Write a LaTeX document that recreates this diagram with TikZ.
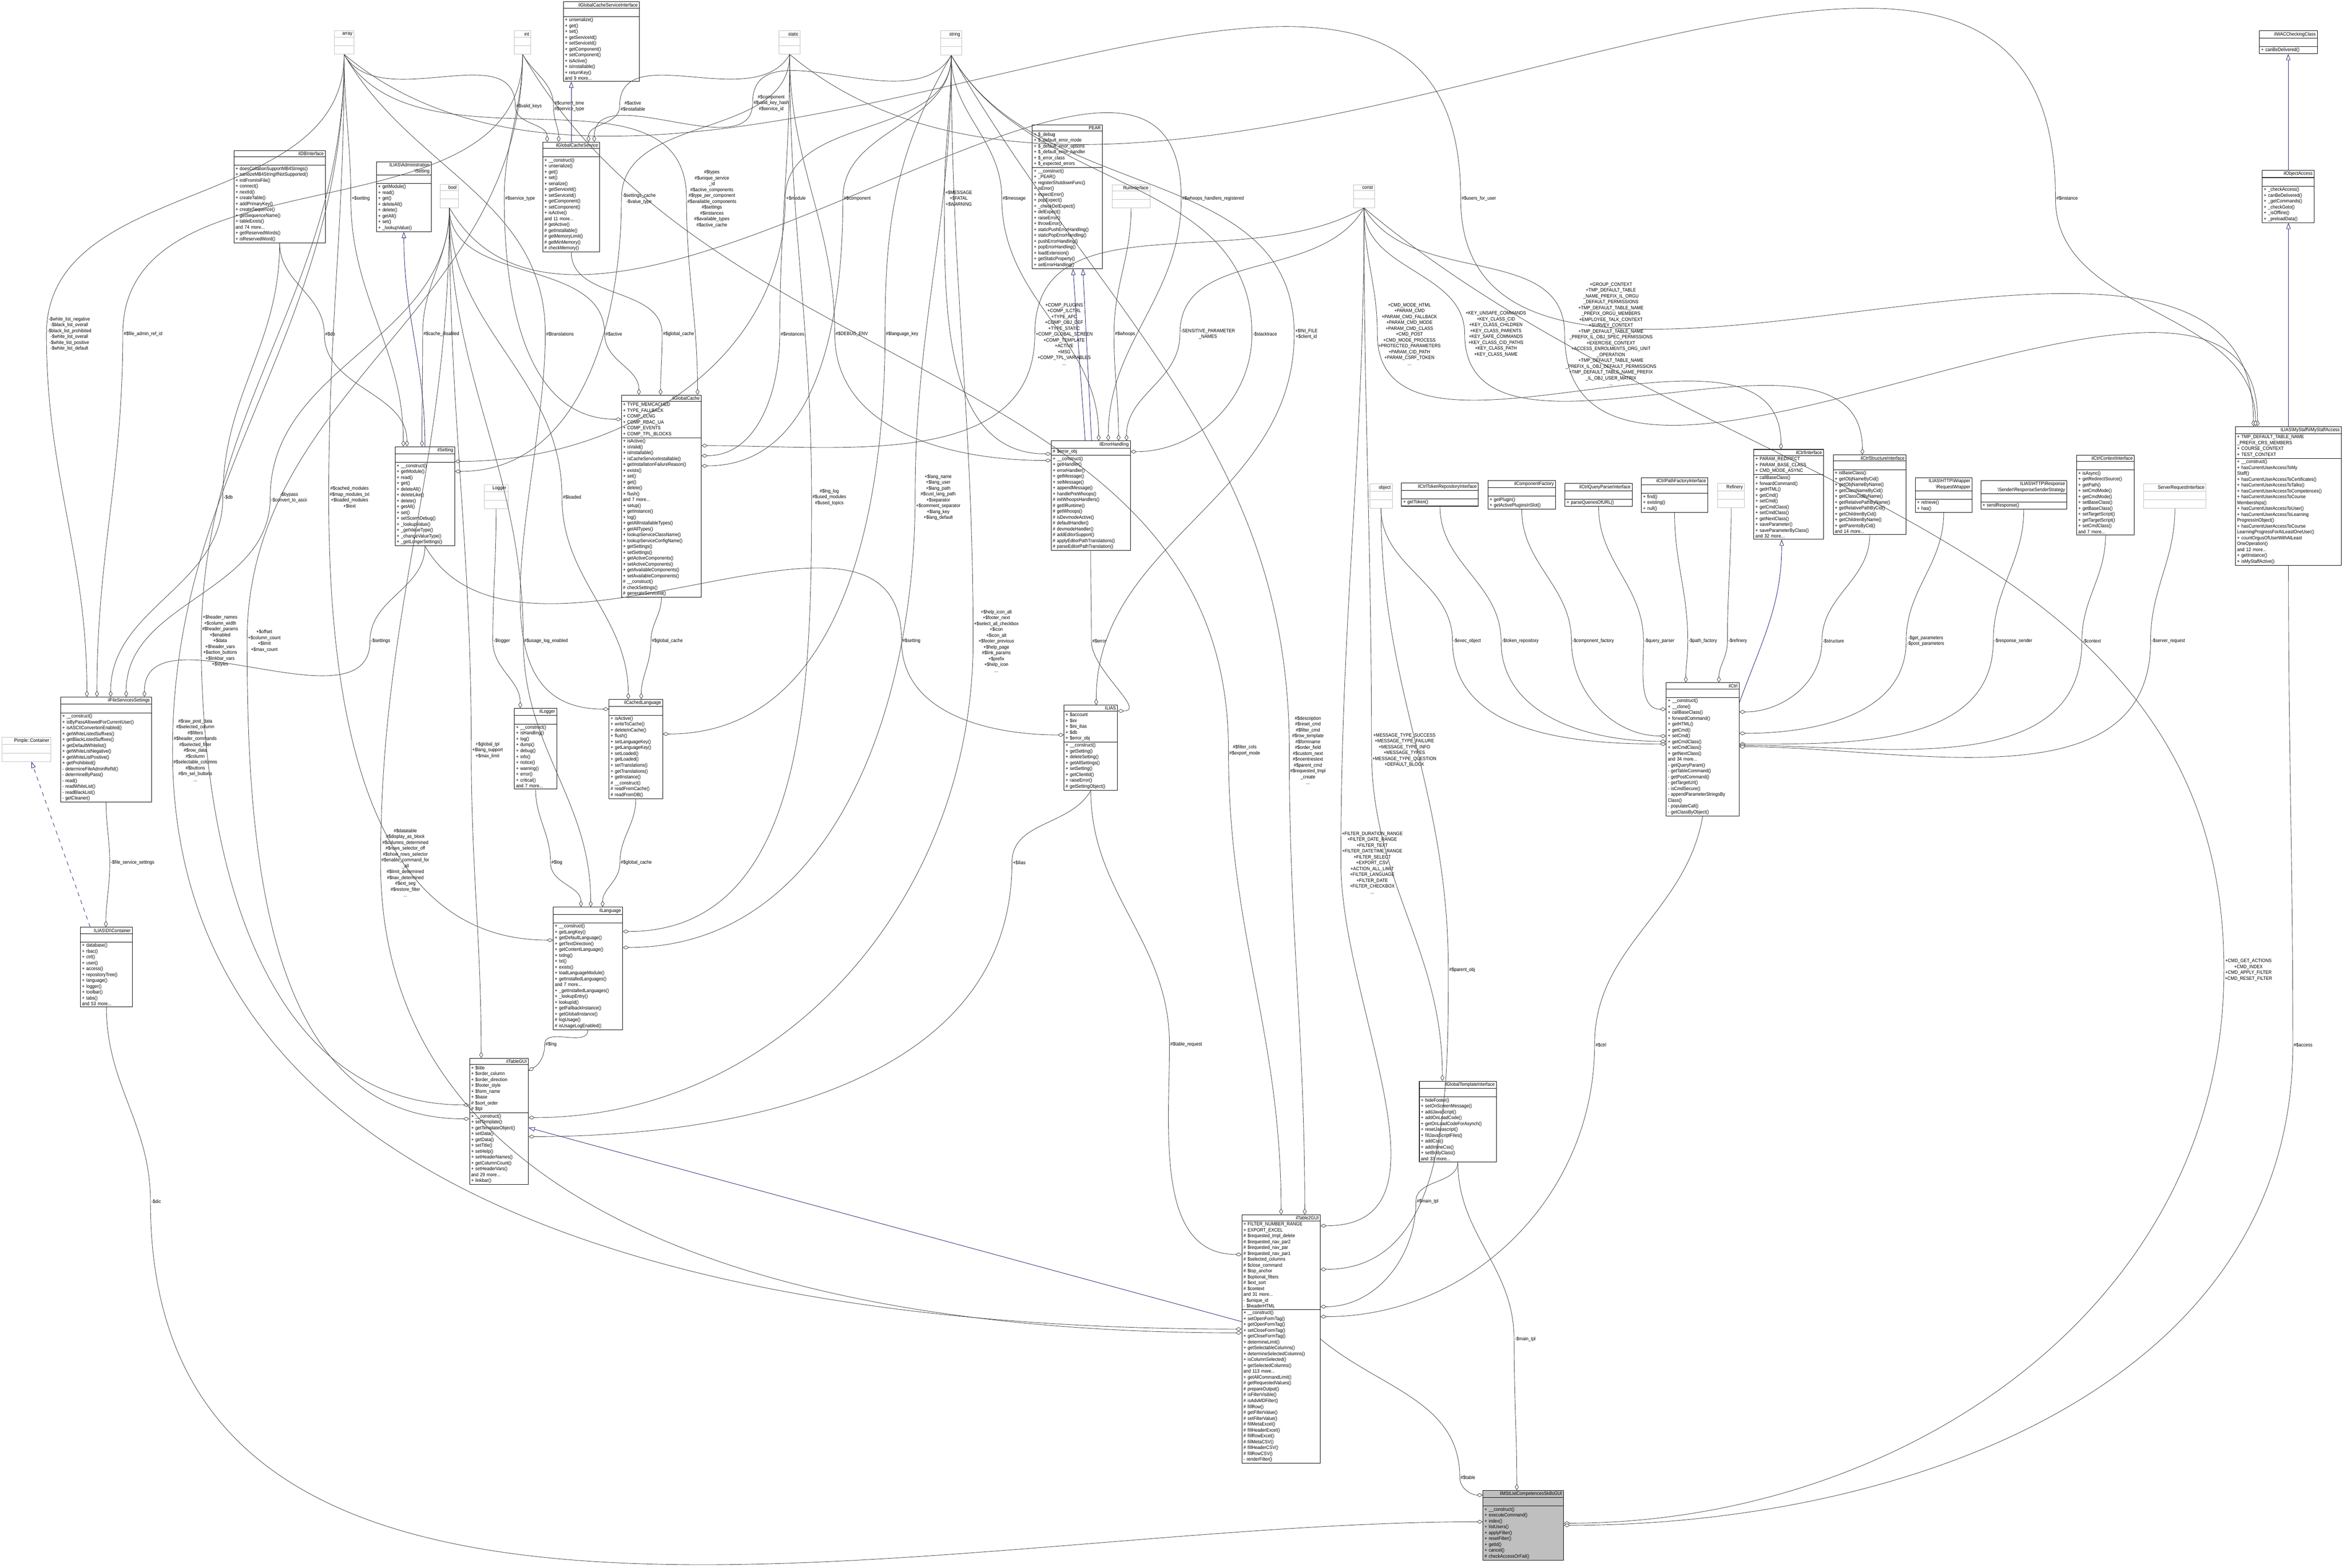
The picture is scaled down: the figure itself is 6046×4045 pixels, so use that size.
\documentclass[tikz,border=0pt]{standalone}
\usepackage{fontspec}
\setmainfont[FakeStretch=0.9]{Liberation Sans}
\usetikzlibrary{shapes.multipart,arrows.meta,calc}
\definecolor{navy}{RGB}{25,25,112}
\definecolor{extgray}{RGB}{191,191,191}
\newcommand\cf{\fontsize{3.6}{4.3}\selectfont}
\newcommand\ttl[1]{\hspace*{\fill}#1\hspace*{\fill}}
\newcommand\E[5]{\draw[agg] #1 to[out=#4,in=90] (#2.west) to[out=-90,in=#5] #3;}
\begin{document}
\begin{tikzpicture}[x=0.01cm,y=-0.01cm,
 cls/.style={draw=black,line width=0.35pt,rectangle split,rectangle split parts=3,anchor=north west,font=\cf,align=left,inner xsep=1.2pt,inner ysep=0.8pt,fill=white},
 ext/.style={cls,draw=extgray},
 lab/.style={font=\cf,align=center,inner sep=0.5pt},
 agg/.style={draw=black!75,line width=0.3pt,-{Diamond[open,fill=white,length=4.5pt,width=2.8pt]}},
 inh/.style={draw=navy,line width=0.3pt,-{Triangle[open,fill=white,length=4.5pt,width=3.2pt]}}]
\useasboundingbox (0,0) rectangle (6046,4045);
% ---------- undocumented types
\node[ext,text width=12.1pt] (arr) at (862,79) {\ttl{array}\nodepart{two}\strut\nodepart{three}\strut};
\node[ext,text width=9.5pt] (int) at (1327,79) {\ttl{int}\nodepart{two}\strut\nodepart{three}\strut};
\node[ext,text width=13pt] (sta) at (2010,79) {\ttl{static}\nodepart{two}\strut\nodepart{three}\strut};
\node[ext,text width=13pt] (str) at (2427,79) {\ttl{string}\nodepart{two}\strut\nodepart{three}\strut};
\node[ext,text width=10.7pt] (bool) at (1136,475) {\ttl{bool}\nodepart{two}\strut\nodepart{three}\strut};
\node[ext,text width=13pt] (const) at (3492,476) {\ttl{const}\nodepart{two}\strut\nodepart{three}\strut};
\node[ext,text width=25.5pt] (run) at (2869,476) {\ttl{RunInterface}\nodepart{two}\strut\nodepart{three}\strut};
\node[ext,text width=15pt] (logger) at (1249,1250) {\ttl{Logger}\nodepart{two}\strut\nodepart{three}\strut};
\node[ext,text width=14.1pt] (obj) at (3534,1248) {\ttl{object}\nodepart{two}\strut\nodepart{three}\strut};
\node[ext,text width=17.2pt] (ref) at (4432,1247) {\ttl{Refinery}\nodepart{two}\strut\nodepart{three}\strut};
\node[ext,text width=43.4pt] (sri) at (5531,1248) {\ttl{ServerRequestInterface}\nodepart{two}\strut\nodepart{three}\strut};
\node[ext,text width=33.4pt] (pim) at (5,1902) {\ttl{Pimple::Container}\nodepart{two}\strut\nodepart{three}\strut};
% ---------- classes
\node[cls,text width=53.4pt] (gcsi) at (1453,4) {\ttl{ilGlobalCacheServiceInterface}\nodepart{two}\strut\nodepart{three}+ unserialize()\\+ get()\\+ set()\\+ getServiceId()\\+ setServiceId()\\+ getComponent()\\+ setComponent()\\+ isActive()\\+ isInstallable()\\+ returnKey()\\and 9 more...};
\node[cls,text width=39.4pt] (gcs) at (1400,366) {\ttl{ilGlobalCacheService}\nodepart{two}\strut\nodepart{three}+ \_\_construct()\\+ unserialize()\\+ get()\\+ set()\\+ serialize()\\+ getServiceId()\\+ setServiceId()\\+ getComponent()\\+ setComponent()\\+ isActive()\\and 11 more...\\\# getActive()\\\# getInstallable()\\\# getMemoryLimit()\\\# getMinMemory()\\\# checkMemory()};
\node[cls,text width=64.7pt] (db) at (603,388) {\ttl{ilDBInterface}\nodepart{two}\strut\nodepart{three}+ doesCollationSupportMB4Strings()\\+ sanitizeMB4StringIfNotSupported()\\+ initFromIniFile()\\+ connect()\\+ nextId()\\+ createTable()\\+ addPrimaryKey()\\+ createSequence()\\+ getSequenceName()\\+ tableExists()\\and 74 more...\\+ getReservedWords()\\+ isReservedWord()};
\node[cls,text width=37.7pt] (aset) at (971,417) {\ttl{ILIAS\textbackslash Administration}\\\ttl{\textbackslash Setting}\nodepart{two}\strut\nodepart{three}+ getModule()\\+ read()\\+ get()\\+ deleteAll()\\+ delete()\\+ getAll()\\+ set()\\+ \_lookupValue()};
\node[cls,text width=56.2pt] (gc) at (1603,1019) {\ttl{ilGlobalCache}\nodepart{two}+ TYPE\_MEMCACHED\\+ TYPE\_FALLBACK\\+ COMP\_CLNG\\+ COMP\_RBAC\_UA\\+ COMP\_EVENTS\\+ COMP\_TPL\_BLOCKS\nodepart{three}+ isActive()\\+ isValid()\\+ isInstallable()\\+ isCacheServiceInstallable()\\+ getInstallationFailureReason()\\+ exists()\\+ set()\\+ get()\\+ delete()\\+ flush()\\and 7 more...\\+ setup()\\+ getInstance()\\+ log()\\+ getAllInstallableTypes()\\+ getAllTypes()\\+ lookupServiceClassName()\\+ lookupServiceConfigName()\\+ getSettings()\\+ setSettings()\\+ getActiveComponents()\\+ setActiveComponents()\\+ getAvailableComponents()\\+ setAvailableComponents()\\\# \_\_construct()\\\# checkSettings()\\\# generateServiceId()};
\node[cls,text width=41.4pt] (set) at (1019,1152) {\ttl{ilSetting}\nodepart{two}\strut\nodepart{three}+ \_\_construct()\\+ getModule()\\+ read()\\+ get()\\+ deleteAll()\\+ deleteLike()\\+ delete()\\+ getAll()\\+ set()\\+ setScormDebug()\\+ \_lookupValue()\\+ \_getValueType()\\+ \_changeValueType()\\+ \_getLongerSettings()};
\node[cls,text width=49.1pt] (pear) at (2663,322) {\ttl{PEAR}\nodepart{two}+ \$\_debug\\+ \$\_default\_error\_mode\\+ \$\_default\_error\_options\\+ \$\_default\_error\_handler\\+ \$\_error\_class\\+ \$\_expected\_errors\nodepart{three}+ \_\_construct()\\+ \_PEAR()\\+ registerShutdownFunc()\\+ isError()\\+ expectError()\\+ popExpect()\\+ \_checkDelExpect()\\+ delExpect()\\+ raiseError()\\+ throwError()\\+ staticPushErrorHandling()\\+ staticPopErrorHandling()\\+ pushErrorHandling()\\+ popErrorHandling()\\+ loadExtension()\\+ getStaticProperty()\\+ setErrorHandling()};
\node[cls,text width=55.6pt] (err) at (2712,1137) {\ttl{ilErrorHandling}\nodepart{two}\# \$error\_obj\nodepart{three}+ \_\_construct()\\+ getHandler()\\+ errorHandler()\\+ getMessage()\\+ setMessage()\\+ appendMessage()\\+ handlePreWhoops()\\\# initWhoopsHandlers()\\\# getIlRuntime()\\\# getWhoops()\\\# isDevmodeActive()\\\# defaultHandler()\\\# devmodeHandler()\\\# addEditorSupport()\\\# applyEditorPathTranslations()\\\# parseEditorPathTranslation()};
\node[cls,text width=54pt] (tok) at (3616,1246) {\ttl{ilCtrlTokenRepositoryInterface}\nodepart{two}\strut\nodepart{three}+ getToken()};
\node[cls,text width=47.1pt] (cfac) at (3839,1239) {\ttl{ilComponentFactory}\nodepart{two}\strut\nodepart{three}+ getPlugin()\\+ getActivePluginsInSlot()};
\node[cls,text width=46.8pt] (qp) at (4038,1247) {\ttl{ilCtrlQueryParserInterface}\nodepart{two}\strut\nodepart{three}+ parseQueriesOfURL()};
\node[cls,text width=46.2pt] (pf) at (4235,1232) {\ttl{ilCtrlPathFactoryInterface}\nodepart{two}\strut\nodepart{three}+ find()\\+ existing()\\+ null()};
\node[cls,text width=48.8pt] (ci) at (4525,1159) {\ttl{ilCtrlInterface}\nodepart{two}+ PARAM\_REDIRECT\\+ PARAM\_BASE\_CLASS\\+ CMD\_MODE\_ASYNC\nodepart{three}+ callBaseClass()\\+ forwardCommand()\\+ getHTML()\\+ getCmd()\\+ setCmd()\\+ getCmdClass()\\+ setCmdClass()\\+ getNextClass()\\+ saveParameter()\\+ saveParameterByClass()\\and 32 more...};
\node[cls,text width=51.1pt] (cs) at (4730,1173) {\ttl{ilCtrlStructureInterface}\nodepart{two}\strut\nodepart{three}+ isBaseClass()\\+ getObjNameByCid()\\+ getObjNameByName()\\+ getClassNameByCid()\\+ getClassCidByName()\\+ getRelativePathByName()\\+ getRelativePathByCid()\\+ getChildrenByCid()\\+ getChildrenByName()\\+ getParentsByCid()\\and 14 more...};
\node[cls,text width=39.1pt] (rw) at (4942,1232) {\ttl{ILIAS\textbackslash HTTP\textbackslash Wrapper}\\\ttl{\textbackslash RequestWrapper}\nodepart{two}\strut\nodepart{three}+ retrieve()\\+ has()};
\node[cls,text width=60.5pt] (rs) at (5111,1239) {\ttl{ILIAS\textbackslash HTTP\textbackslash Response}\\\ttl{\textbackslash Sender\textbackslash ResponseSenderStrategy}\nodepart{two}\strut\nodepart{three}+ sendResponse()};
\node[cls,text width=40pt] (cc) at (5358,1174) {\ttl{ilCtrlContextInterface}\nodepart{two}\strut\nodepart{three}+ isAsync()\\+ getRedirectSource()\\+ getPath()\\+ setCmdMode()\\+ getCmdMode()\\+ setBaseClass()\\+ getBaseClass()\\+ setTargetScript()\\+ getTargetScript()\\+ setCmdClass()\\and 7 more...};
\node[cls,text width=40pt] (wac) at (5830,79) {\ttl{ilWACCheckingClass}\nodepart{two}\strut\nodepart{three}+ canBeDelivered()};
\node[cls,text width=35.7pt] (oa) at (5837,439) {\ttl{ilObjectAccess}\nodepart{two}\strut\nodepart{three}+ \_checkAccess()\\+ canBeDelivered()\\+ \_getCommands()\\+ \_checkGoto()\\+ \_isOffline()\\+ \_preloadData()};
\node[cls,text width=75.3pt] (msa) at (5768,1100) {\ttl{ILIAS\textbackslash MyStaff\textbackslash ilMyStaffAccess}\nodepart{two}+ TMP\_DEFAULT\_TABLE\_NAME\\\_PREFIX\_CRS\_MEMBERS\\+ COURSE\_CONTEXT\\+ TEST\_CONTEXT\nodepart{three}+ \_\_construct()\\+ hasCurrentUserAccessToMy\\Staff()\\+ hasCurrentUserAccessToCertificates()\\+ hasCurrentUserAccessToTalks()\\+ hasCurrentUserAccessToCompetences()\\+ hasCurrentUserAccessToCourse\\Memberships()\\+ hasCurrentUserAccessToUser()\\+ hasCurrentUserAccessToLearning\\ProgressInObject()\\+ hasCurrentUserAccessToCourse\\LearningProgressForAtLeastOneUser()\\+ countOrgusOfUserWithAtLeast\\OneOperation()\\and 12 more...\\+ getInstance()\\+ isMyStaffActive()};
\node[cls,text width=51.1pt] (ctrl) at (4299,1761) {\ttl{ilCtrl}\nodepart{two}\strut\nodepart{three}+ \_\_construct()\\+ \_\_clone()\\+ callBaseClass()\\+ forwardCommand()\\+ getHTML()\\+ getCmd()\\+ setCmd()\\+ getCmdClass()\\+ setCmdClass()\\+ getNextClass()\\and 34 more...\\- getQueryParam()\\- getTableCommand()\\- getPostCommand()\\- getTargetUrl()\\- isCmdSecure()\\- appendParameterStringsBy\\Class()\\- populateCall()\\- getClassByObject()};
\node[cls,text width=64.2pt] (fs) at (156,1798) {\ttl{ilFileServicesSettings}\nodepart{two}\strut\nodepart{three}+ \_\_construct()\\+ isByPassAllowedForCurrentUser()\\+ isASCIIConvertionEnabled()\\+ getWhiteListedSuffixes()\\+ getBlackListedSuffixes()\\+ getDefaultWhitelist()\\+ getWhiteListNegative()\\+ getWhiteListPositive()\\+ getProhibited()\\- determineFileAdminRefId()\\- determineByPass()\\- read()\\- readWhiteList()\\- readBlackList()\\- getCleaner()};
\node[cls,text width=35.7pt] (dic) at (207,2392) {\ttl{ILIAS\textbackslash DI\textbackslash Container}\nodepart{two}\strut\nodepart{three}+ database()\\+ rbac()\\+ ctrl()\\+ user()\\+ access()\\+ repositoryTree()\\+ language()\\+ logger()\\+ toolbar()\\+ tabs()\\and 53 more...};
\node[cls,text width=28.6pt] (ilog) at (1327,1827) {\ttl{ilLogger}\nodepart{two}\strut\nodepart{three}+ \_\_construct()\\+ isHandling()\\+ log()\\+ dump()\\+ debug()\\+ info()\\+ notice()\\+ warning()\\+ error()\\+ critical()\\and 7 more...};
\node[cls,text width=36.9pt] (cl) at (1571,1804) {\ttl{ilCachedLanguage}\nodepart{two}\strut\nodepart{three}+ isActive()\\+ writeToCache()\\+ deleteInCache()\\+ flush()\\+ setLanguageKey()\\+ getLanguageKey()\\+ setLoaded()\\+ getLoaded()\\+ setTranslations()\\+ getTranslations()\\+ getInstance()\\\# \_\_construct()\\\# readFromCache()\\\# readFromDB()};
\node[cls,text width=48.5pt] (lng) at (1427,2340) {\ttl{ilLanguage}\nodepart{two}\strut\nodepart{three}+ \_\_construct()\\+ getLangKey()\\+ getDefaultLanguage()\\+ getTextDirection()\\+ getContentLanguage()\\+ txtlng()\\+ txt()\\+ exists()\\+ loadLanguageModule()\\+ getInstalledLanguages()\\and 7 more...\\+ \_getInstalledLanguages()\\+ \_lookupEntry()\\+ lookupId()\\+ getFallbackInstance()\\+ getGlobalInstance()\\\# logUsage()\\\# isUsageLogEnabled()};
\node[cls,text width=40.8pt] (tg) at (1211,2730) {\ttl{ilTableGUI}\nodepart{two}+ \$title\\+ \$order\_column\\+ \$order\_direction\\+ \$footer\_style\\+ \$form\_name\\+ \$base\\\# \$sort\_order\\\# \$tpl\nodepart{three}+ \_\_construct()\\+ setTemplate()\\+ getTemplateObject()\\+ setData()\\+ getData()\\+ setTitle()\\+ setHelp()\\+ setHeaderNames()\\+ getColumnCount()\\+ setHeaderVars()\\and 29 more...\\+ linkbar()};
\node[cls,text width=36.9pt] (ilias) at (2745,1819) {\ttl{ILIAS}\nodepart{two}+ \$account\\+ \$ini\\+ \$ini\_ilias\\+ \$db\\+ \$error\_obj\nodepart{three}+ \_\_construct()\\+ getSetting()\\+ deleteSetting()\\+ getAllSettings()\\+ setSetting()\\+ getClientId()\\+ raiseError()\\\# getSettingObject()};
\node[cls,text width=55.1pt] (t2) at (3204,3134) {\ttl{ilTable2GUI}\nodepart{two}+ FILTER\_NUMBER\_RANGE\\+ EXPORT\_EXCEL\\\# \$requested\_tmpl\_delete\\\# \$requested\_nav\_par2\\\# \$requested\_nav\_par\\\# \$requested\_nav\_par1\\\# \$selected\_columns\\\# \$close\_command\\\# \$top\_anchor\\\# \$optional\_filters\\\# \$ext\_sort\\\# \$context\\and 31 more...\\- \$unique\_id\\- \$headerHTML\nodepart{three}+ \_\_construct()\\+ setOpenFormTag()\\+ getOpenFormTag()\\+ setCloseFormTag()\\+ getCloseFormTag()\\+ determineLimit()\\+ getSelectableColumns()\\+ determineSelectedColumns()\\+ isColumnSelected()\\+ getSelectedColumns()\\and 113 more...\\+ getAllCommandLimit()\\\# getRequestedValues()\\\# prepareOutput()\\\# isFilterVisible()\\\# isAdvMDFilter()\\\# fillRow()\\\# getFilterValue()\\\# setFilterValue()\\\# fillMetaExcel()\\\# fillHeaderExcel()\\\# fillRowExcel()\\\# fillMetaCSV()\\\# fillHeaderCSV()\\\# fillRowCSV()\\- renderFilter()};
\node[cls,text width=54pt] (gt) at (3662,2789) {\ttl{ilGlobalTemplateInterface}\nodepart{two}\strut\nodepart{three}+ hideFooter()\\+ setOnScreenMessage()\\+ addJavaScript()\\+ addOnLoadCode()\\+ getOnLoadCodeForAsynch()\\+ resetJavascript()\\+ fillJavaScriptFiles()\\+ addCss()\\+ addInlineCss()\\+ setBodyClass()\\and 33 more...};
\node[cls,text width=56.8pt,fill=extgray] (ms) at (3826,3845) {\ttl{ilMStListCompetencesSkillsGUI}\nodepart{two}\strut\nodepart{three}+ \_\_construct()\\+ executeCommand()\\+ index()\\+ listUsers()\\+ applyFilter()\\+ resetFilter()\\+ getId()\\+ cancel()\\\# checkAccessOrFail()};
% ---------- labels
\node[lab] (Lwl) at (179,862) {-\$white\_list\_negative\\-\$black\_list\_overall\\-\$black\_list\_prohibited\\-\$white\_list\_overall\\-\$white\_list\_positive\\-\$white\_list\_default};
\node[lab] (Lfar) at (369,862) {\#\$file\_admin\_ref\_id};
\node[lab] (Ldb) at (852,862) {\#\$db};
\node[lab] (Lsetting) at (931,512) {+\$setting};
\node[lab] (Lvk) at (1365,274) {\#\$valid\_keys};
\node[lab] (Lct) at (1469,274) {\#\$current\_time\\\#\$service\_type};
\node[lab] (Lai) at (1633,274) {\#\$active\\\#\$installable};
\node[lab] (Lcomp3) at (1990,266) {\#\$component\\\#\$valid\_key\_hash\\\#\$service\_id};
\node[lab] (Lst) at (1342,512) {\#\$service\_type};
\node[lab] (Lcd) at (1139,862) {\#\$cache\_disabled};
\node[lab] (Ltr) at (1445,862) {\#\$translations};
\node[lab] (Lact) at (1584,862) {\#\$active};
\node[lab] (Lgc1) at (1751,862) {\#\$global\_cache};
\node[lab] (Lsc) at (1649,513) {-\$settings\_cache\\-\$value\_type};
\node[lab] (Ltypes) at (1837,513) {\#\$types\\\#\$unique\_service\\\_id\\\#\$active\_components\\\#\$type\_per\_component\\\#\$available\_components\\\#\$settings\\\#\$instances\\\#\$available\_types\\\#\$active\_cache};
\node[lab] (Ldb2) at (589,1283) {-\$db};
\node[lab] (Lbyp) at (746,1284) {-\$bypass\\-\$convert\_to\_ascii};
\node[lab] (Lcm) at (902,1283) {\#\$cached\_modules\\\#\$map\_modules\_txt\\+\$loaded\_modules\\+\$text};
\node[lab] (Lloaded) at (1476,1283) {\#\$loaded};
\node[lab] (Lmod) at (2054,512) {+\$module};
\node[lab] (Lcomp) at (2212,512) {\#\$component};
\node[lab] (Lmsg3) at (2474,512) {+\$MESSAGE\\+\$FATAL\\+\$WARNING};
\node[lab] (Lmsg) at (2617,512) {\#\$message};
\node[lab] (Lwhr) at (3130,512) {\#\$whoops\_handlers\_registered};
\node[lab] (Luser) at (3816,512) {\#\$users\_for\_user};
\node[lab] (Linst) at (5334,512) {\#\$instance};
\node[lab] (Linsts) at (2045,862) {\#\$instances};
\node[lab] (Ldbg) at (2198,862) {\#\$DEBUG\_ENV};
\node[lab] (Llk) at (2328,862) {\#\$language\_key};
\node[lab] (Lcp) at (2746,862) {+COMP\_PLUGINS\\+COMP\_ILCTRL\\+TYPE\_APC\\+COMP\_OBJ\_DEF\\+TYPE\_STATIC\\+COMP\_GLOBAL\_SCREEN\\+COMP\_TEMPLATE\\+ACTIVE\\+MSG\\+COMP\_TPL\_VARIABLES\\...};
\node[lab] (Lwh) at (2903,862) {\#\$whoops};
\node[lab] (Lsens) at (3117,862) {-SENSITIVE\_PARAMETER\\\_NAMES};
\node[lab] (Lstack) at (3264,862) {-\$stacktrace};
\node[lab] (Lini) at (3371,862) {+\$INI\_FILE\\+\$client\_id};
\node[lab] (Lcmd) at (3637,862) {+CMD\_MODE\_HTML\\+PARAM\_CMD\\+PARAM\_CMD\_FALLBACK\\+PARAM\_CMD\_MODE\\+PARAM\_CMD\_CLASS\\+CMD\_POST\\+CMD\_MODE\_PROCESS\\+PROTECTED\_PARAMETERS\\+PARAM\_CID\_PATH\\+PARAM\_CSRF\_TOKEN\\...};
\node[lab] (Lkey) at (3860,862) {+KEY\_UNSAFE\_COMMANDS\\+KEY\_CLASS\_CID\\+KEY\_CLASS\_CHILDREN\\+KEY\_CLASS\_PARENTS\\+KEY\_SAFE\_COMMANDS\\+KEY\_CLASS\_CID\_PATHS\\+KEY\_CLASS\_PATH\\+KEY\_CLASS\_NAME};
\node[lab] (Lgrp) at (4157,862) {+GROUP\_CONTEXT\\+TMP\_DEFAULT\_TABLE\\\_NAME\_PREFIX\_IL\_ORGU\\\_DEFAULT\_PERMISSIONS\\+TMP\_DEFAULT\_TABLE\_NAME\\\_PREFIX\_ORGU\_MEMBERS\\+EMPLOYEE\_TALK\_CONTEXT\\+SURVEY\_CONTEXT\\+TMP\_DEFAULT\_TABLE\_NAME\\\_PREFIX\_IL\_OBJ\_SPEC\_PERMISSIONS\\+EXERCISE\_CONTEXT\\+ACCESS\_ENROLMENTS\_ORG\_UNIT\\\_OPERATION\\+TMP\_DEFAULT\_TABLE\_NAME\\\_PREFIX\_IL\_OBJ\_DEFAULT\_PERMISSIONS\\+TMP\_DEFAULT\_TABLE\_NAME\_PREFIX\\\_IL\_OBJ\_USER\_MATRIX\\...};
\node[lab] (Lllog) at (2140,1283) {\#\$lng\_log\\\#\$used\_modules\\\#\$used\_topics};
\node[lab] (Llang) at (2421,1283) {+\$lang\_name\\+\$lang\_user\\+\$lang\_path\\\#\$cust\_lang\_path\\+\$separator\\+\$comment\_separator\\+\$lang\_key\\+\$lang\_default};
\node[lab] (Lhn) at (568,1654) {+\$header\_names\\+\$column\_width\\\#\$header\_params\\+\$enabled\\+\$data\\+\$header\_vars\\+\$action\_buttons\\+\$linkbar\_vars\\+\$styles};
\node[lab] (Loff) at (682,1654) {+\$offset\\+\$column\_count\\+\$limit\\+\$max\_count};
\node[lab] (Lsets) at (982,1654) {-\$settings};
\node[lab] (Llogger) at (1295,1654) {-\$logger};
\node[lab] (Lule) at (1409,1654) {\#\$usage\_log\_enabled};
\node[lab] (Lgc2) at (1722,1654) {\#\$global\_cache};
\node[lab] (Lrpd) at (504,1936) {\#\$raw\_post\_data\\\#\$selected\_column\\\#\$filters\\\#\$header\_commands\\\#\$selected\_filter\\\#\$row\_data\\\#\$column\\\#\$selectable\_columns\\\#\$buttons\\\#\$m\_sel\_buttons\\...};
\node[lab] (Lgt) at (1258,1936) {+\$global\_tpl\\+\$lang\_support\\+\$max\_limit};
\node[lab] (Lfss) at (342,2226) {-\$file\_service\_settings};
\node[lab] (Ldt) at (1046,2226) {\#\$datatable\\\#\$display\_as\_block\\\#\$columns\_determined\\\#\$rows\_selector\_off\\\#\$show\_rows\_selector\\\#\$enable\_command\_for\\\_all\\\#\$limit\_determined\\\#\$nav\_determined\\\#\$ext\_seg\\\#\$restore\_filter\\...};
\node[lab] (Llog) at (1437,2226) {\#\$log};
\node[lab] (Lgc3) at (1642,2226) {\#\$global\_cache};
\node[lab] (Llng) at (1422,2695) {\#\$lng};
\node[lab] (Lhelp) at (2571,1654) {+\$help\_icon\_alt\\+\$footer\_next\\+\$select\_all\_checkbox\\+\$icon\\+\$icon\_alt\\+\$footer\_previous\\+\$help\_page\\\#\$link\_params\\+\$prefix\\+\$help\_icon\\...};
\node[lab] (Lset2) at (2352,1654) {\#\$setting};
\node[lab] (Lerr) at (2837,1654) {\#\$error};
\node[lab] (Lexec) at (3786,1654) {-\$exec\_object};
\node[lab] (Ltok) at (3923,1654) {-\$token\_repository};
\node[lab] (Lcf) at (4111,1654) {-\$component\_factory};
\node[lab] (Lqp) at (4282,1654) {-\$query\_parser};
\node[lab] (Lpf) at (4394,1654) {-\$path\_factory};
\node[lab] (Lref) at (4484,1654) {-\$refinery};
\node[lab] (Lstr) at (4731,1654) {-\$structure};
\node[lab] (Lgp) at (4969,1654) {-\$get\_parameters\\-\$post\_parameters};
\node[lab] (Lrs) at (5195,1654) {-\$response\_sender};
\node[lab] (Lctx) at (5398,1654) {-\$context};
\node[lab] (Lsr) at (5595,1654) {-\$server\_request};
\node[lab] (Ldesc) at (3375,1936) {\#\$description\\\#\$reset\_cmd\\\#\$filter\_cmd\\\#\$row\_template\\\#\$formname\\\#\$order\_field\\\#\$custom\_next\\\#\$noentriestext\\\#\$parent\_cmd\\\#\$requested\_tmpl\\\_create\\...};
\node[lab] (Lfc) at (3212,1936) {\#\$filter\_cols\\\#\$export\_mode};
\node[lab] (Lmt) at (3624,1936) {+MESSAGE\_TYPE\_SUCCESS\\+MESSAGE\_TYPE\_FAILURE\\+MESSAGE\_TYPE\_INFO\\+MESSAGE\_TYPES\\+MESSAGE\_TYPE\_QUESTION\\+DEFAULT\_BLOCK};
\node[lab] (Lilias) at (2630,2226) {+\$ilias};
\node[lab] (Lfil) at (3541,2226) {+FILTER\_DURATION\_RANGE\\+FILTER\_DATE\_RANGE\\+FILTER\_TEXT\\+FILTER\_DATETIME\_RANGE\\+FILTER\_SELECT\\+EXPORT\_CSV\\+ACTION\_ALL\_LIMIT\\+FILTER\_LANGUAGE\\+FILTER\_DATE\\+FILTER\_CHECKBOX\\...};
\node[lab] (Lpo) at (3773,2503) {\#\$parent\_obj};
\node[lab] (Ltr2) at (3061,2695) {\#\$table\_request};
\node[lab] (Lcga) at (5802,2503) {+CMD\_GET\_ACTIONS\\+CMD\_INDEX\\+CMD\_APPLY\_FILTER\\+CMD\_RESET\_FILTER};
\node[lab] (Lctrl) at (4131,2696) {\#\$ctrl};
\node[lab] (Lacc) at (5943,2696) {\#\$access};
\node[lab] (Lmt1) at (3684,3100) {\#\$main\_tpl};
\node[lab] (Lmt2) at (3936,3456) {-\$main\_tpl};
\node[lab] (Ltab) at (3788,3812) {\#\$table};
\node[lab] (Ldic) at (403,3100) {-\$dic};
% ---------- inheritance
\draw[inh] (gcs.north) -- (gcs.north |- gcsi.south);
\draw[inh] (set.north) to[out=90,in=-90] (aset.south);
\draw[inh] ($(err.north west)!.43!(err.north east)$) -- ($(pear.south west)!.58!(pear.south east)$);
\draw[inh] ($(err.north west)!.51!(err.north east)$) -- ($(pear.south west)!.72!(pear.south east)$);
\draw[inh] ($(ctrl.north east)!.15!(ctrl.south east)$) to[out=70,in=-90] ($(ci.south west)!.4!(ci.south east)$);
\draw[inh] (oa.north) -- (oa.north |- wac.south);
\draw[inh] (msa.north) -- (msa.north |- oa.south);
\draw[inh] ($(t2.north west)!.43!(t2.south west)$) -- ($(tg.north east)!.55!(tg.south east)$);
\draw[inh,dashed] ($(dic.north west)!.19!(dic.north east)$) -- ($(pim.south west)!.6!(pim.south east)$);
% ---------- aggregations
\E{(arr.south)}{Lwl}{($(fs.north west)!.29!(fs.north east)$)}{-90}{90}
\E{(int.south)}{Lfar}{($(fs.north west)!.40!(fs.north east)$)}{-90}{90}
\E{(db.south)}{Ldb2}{($(fs.north west)!.55!(fs.north east)$)}{-90}{90}
\E{(bool.south)}{Lbyp}{($(fs.north west)!.72!(fs.north east)$)}{-90}{90}
\E{(set.south)}{Lsets}{($(fs.north west)!.92!(fs.north east)$)}{-90}{90}
\E{(arr.south)}{Lsetting}{($(set.north west)!.14!(set.north east)$)}{-90}{90}
\E{(db.south)}{Ldb}{($(set.north west)!.2!(set.north east)$)}{-90}{90}
\E{(bool.south)}{Lcd}{($(set.north west)!.45!(set.north east)$)}{-90}{90}
\E{(str.south)}{Lmod}{($(set.north east)!.15!(set.south east)$)}{-90}{0}
\E{(sta.south)}{Lsc}{($(set.north east)!.25!(set.south east)$)}{-90}{0}
\E{(arr.south)}{Lvk}{($(gcs.north west)!.08!(gcs.north east)$)}{-60}{90}
\E{(int.south)}{Lct}{($(gcs.north west)!.28!(gcs.north east)$)}{-60}{90}
\E{(sta.south)}{Lai}{($(gcs.north west)!.80!(gcs.north east)$)}{-120}{90}
\E{(str.south)}{Lcomp3}{($(gcs.north west)!.9!(gcs.north east)$)}{-120}{90}
\E{(int.south)}{Lst}{($(gc.north west)!.12!(gc.south west)$)}{-90}{180}
\E{(bool.south)}{Lact}{($(gc.north west)!.22!(gc.north east)$)}{-90}{90}
\E{(gcs.south)}{Lgc1}{($(gc.north west)!.49!(gc.north east)$)}{-90}{90}
\E{(arr.south)}{Ltypes}{($(gc.north west)!.95!(gc.north east)$)}{-60}{90}
\E{(sta.south)}{Linsts}{($(gc.north east)!.30!(gc.south east)$)}{-90}{0}
\E{(str.south)}{Lcomp}{($(gc.north east)!.35!(gc.south east)$)}{-90}{0}
\E{(const.south)}{Lcp}{($(gc.north east)!.25!(gc.south east)$)}{-150}{0}
\E{(arr.south)}{Ltr}{($(cl.north west)!.1!(cl.south west)$)}{-60}{180}
\E{(bool.south)}{Lloaded}{($(cl.north west)!.36!(cl.north east)$)}{-90}{90}
\E{(gc.south)}{Lgc2}{($(cl.north west)!.6!(cl.north east)$)}{-90}{90}
\E{(str.south)}{Llk}{($(cl.north east)!.35!(cl.south east)$)}{-120}{0}
\E{(logger.south)}{Llogger}{($(ilog.north west)!.14!(ilog.north east)$)}{-90}{90}
\E{(ilog.south)}{Llog}{($(lng.north west)!.4!(lng.north east)$)}{-90}{90}
\E{(bool.south)}{Lule}{($(lng.north west)!.54!(lng.north east)$)}{-90}{90}
\E{(cl.south)}{Lgc3}{($(lng.north west)!.71!(lng.north east)$)}{-90}{90}
\E{(arr.south)}{Lcm}{($(lng.north west)!.27!(lng.south west)$)}{-90}{180}
\E{(sta.south)}{Lllog}{($(lng.north east)!.2!(lng.south east)$)}{-90}{0}
\E{(str.south)}{Llang}{($(lng.north east)!.33!(lng.south east)$)}{-90}{0}
\E{(lng.south)}{Llng}{($(tg.north east)!.1!(tg.south east)$)}{-90}{30}
\E{(arr.south)}{Lhn}{($(tg.north west)!.37!(tg.south west)$)}{-90}{180}
\E{(int.south)}{Loff}{($(tg.north west)!.48!(tg.south west)$)}{-90}{180}
\E{(bool.south)}{Lgt}{($(tg.north west)!.2!(tg.north east)$)}{-90}{90}
\E{(str.south)}{Lhelp}{($(tg.north east)!.47!(tg.south east)$)}{-90}{0}
\E{(ilias.south)}{Lilias}{($(tg.north east)!.62!(tg.south east)$)}{-120}{0}
\E{(fs.south)}{Lfss}{($(dic.north west)!.49!(dic.north east)$)}{-90}{90}
\E{(set.south)}{Lset2}{($(ilias.north west)!.35!(ilias.south west)$)}{-60}{180}
\E{(err.south)}{Lerr}{($(ilias.north east)!.07!(ilias.south east)$)}{-90}{0}
\E{(str.south)}{Lini}{($(ilias.north west)!.6!(ilias.north east)$)}{-60}{90}
\E{(str.south)}{Lmsg3}{($(err.north west)!.12!(err.south west)$)}{-90}{180}
\E{(sta.south)}{Ldbg}{($(err.north west)!.18!(err.south west)$)}{-90}{180}
\E{(str.south)}{Lmsg}{($(err.north west)!.6!(err.north east)$)}{-90}{90}
\E{(bool.south)}{Lwhr}{($(err.north west)!.72!(err.north east)$)}{-60}{90}
\E{(run.south)}{Lwh}{($(err.north west)!.85!(err.north east)$)}{-90}{90}
\E{(const.south)}{Lsens}{($(err.north west)!.95!(err.north east)$)}{-120}{90}
\E{(str.south)}{Lstack}{($(err.north east)!.1!(err.south east)$)}{-60}{0}
\E{(const.south)}{Lcmd}{($(ci.north west)!.39!(ci.north east)$)}{-90}{90}
\E{(const.south)}{Lkey}{($(cs.north west)!.4!(cs.north east)$)}{-90}{90}
\E{(const.south)}{Lgrp}{($(msa.north west)!.21!(msa.north east)$)}{-60}{90}
\E{(arr.south)}{Luser}{($(msa.north west)!.17!(msa.north east)$)}{-40}{90}
\E{(sta.south)}{Linst}{($(msa.north west)!.19!(msa.north east)$)}{-40}{90}
\E{(obj.south)}{Lexec}{($(ctrl.north west)!.46!(ctrl.south west)$)}{-90}{180}
\E{(tok.south)}{Ltok}{($(ctrl.north west)!.44!(ctrl.south west)$)}{-90}{180}
\E{(cfac.south)}{Lcf}{($(ctrl.north west)!.40!(ctrl.south west)$)}{-90}{180}
\E{(qp.south)}{Lqp}{($(ctrl.north west)!.2!(ctrl.south west)$)}{-90}{180}
\E{(pf.south)}{Lpf}{($(ctrl.north west)!.27!(ctrl.north east)$)}{-90}{90}
\E{(ref.south)}{Lref}{($(ctrl.north west)!.72!(ctrl.north east)$)}{-90}{90}
\E{(cs.south)}{Lstr}{($(ctrl.north east)!.22!(ctrl.south east)$)}{-90}{0}
\E{(rw.south)}{Lgp}{($(ctrl.north east)!.38!(ctrl.south east)$)}{-90}{0}
\E{(rs.south)}{Lrs}{($(ctrl.north east)!.46!(ctrl.south east)$)}{-90}{0}
\E{(cc.south)}{Lctx}{($(ctrl.north east)!.47!(ctrl.south east)$)}{-90}{0}
\E{(sri.south)}{Lsr}{($(ctrl.north east)!.48!(ctrl.south east)$)}{-90}{0}
\E{(ilias.south)}{Ltr2}{($(t2.north west)!.16!(t2.south west)$)}{-90}{180}
\E{(int.south)}{Lfc}{($(t2.north west)!.5!(t2.north east)$)}{-60}{90}
\E{(str.south)}{Ldesc}{($(t2.north west)!.8!(t2.north east)$)}{-60}{90}
\E{(const.south)}{Lfil}{($(t2.north east)!.045!(t2.south east)$)}{-90}{0}
\E{(obj.south)}{Lpo}{($(t2.north east)!.22!(t2.south east)$)}{-90}{0}
\E{(gt.south)}{Lmt1}{($(t2.north east)!.37!(t2.south east)$)}{-90}{0}
\E{(ctrl.south)}{Lctrl}{($(t2.north east)!.41!(t2.south east)$)}{-100}{0}
\E{(arr.south)}{Lrpd}{($(t2.north west)!.46!(t2.south west)$)}{-90}{180}
\E{(bool.south)}{Ldt}{($(t2.north west)!.475!(t2.south west)$)}{-90}{180}
\E{(const.south)}{Lmt}{($(gt.north west)!.3!(gt.north east)$)}{-90}{90}
\E{(t2.east)}{Ltab}{($(ms.north west)!.07!(ms.south west)$)}{-40}{180}
\E{(gt.south)}{Lmt2}{($(ms.north west)!.42!(ms.north east)$)}{-90}{90}
\E{(dic.south)}{Ldic}{($(ms.north west)!.45!(ms.south west)$)}{-90}{180}
\E{(const.south)}{Lcga}{($(ms.north east)!.47!(ms.south east)$)}{-40}{0}
\E{(msa.south)}{Lacc}{($(ms.north east)!.5!(ms.south east)$)}{-90}{0}
\end{tikzpicture}
\end{document}
